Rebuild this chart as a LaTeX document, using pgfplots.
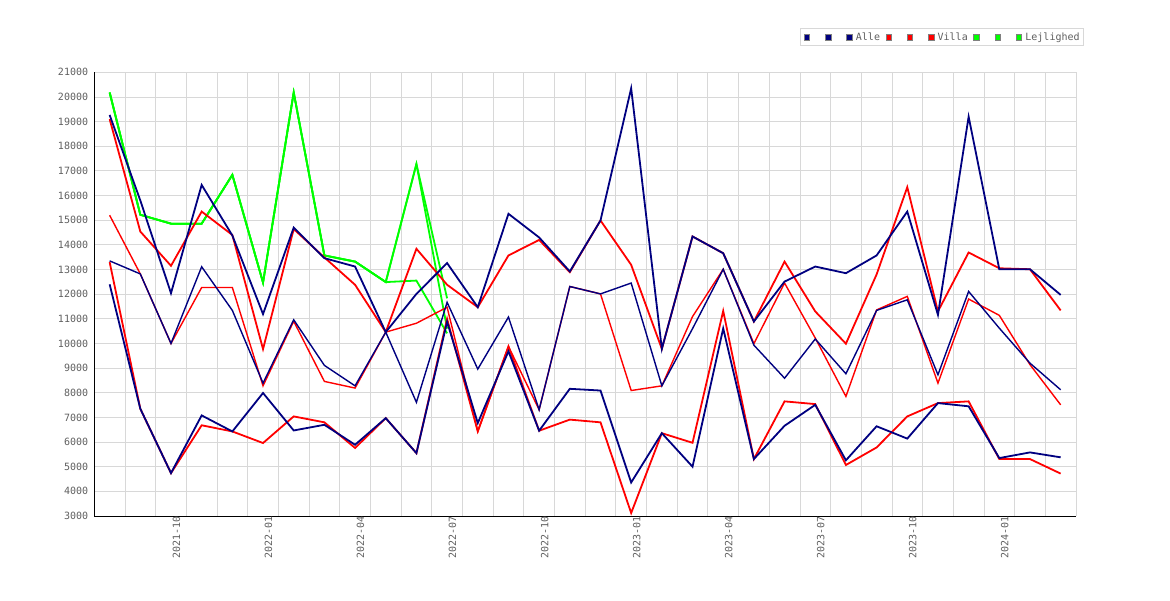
\documentclass[border=0pt]{standalone}
\usepackage{fontspec}
\usepackage{pgfplots}
\usepackage{pgfplotstable}
\pgfplotsset{compat=1.18}
\newfontfamily\monofont{DejaVu Sans Mono}
\definecolor{navyc}{RGB}{0,0,128}
\definecolor{redc}{RGB}{255,0,0}
\definecolor{greenc}{RGB}{0,255,0}
\definecolor{gridc}{RGB}{216,216,216}
\definecolor{labc}{RGB}{95,95,95}

\pgfplotstableread{
x blA blB blC rdA rdB rdC
0 19270 13350 12400 19100 15200 13300
1 15800 12820 7350 14540 12820 7350
2 12040 10000 4740 13150 10000 4740
3 16430 13110 7080 15350 12270 6680
4 14380 11340 6430 14400 12270 6430
5 11190 8390 7990 9770 8280 5960
6 14700 10960 6470 14640 10900 7040
7 13460 9110 6700 13490 8460 6800
8 13120 8280 5890 12380 8190 5760
9 10460 10460 6970 10460 10460 6970
10 12010 7610 5550 13840 10820 5550
11 13260 11670 10880 12380 11470 11000
12 11470 8960 6770 11470 6430 6430
13 15260 11070 9680 13570 9880 9880
14 14300 7310 6460 14200 7310 6460
15 12920 12310 8160 12890 12310 6910
16 14990 12010 8090 14990 12010 6800
17 20350 12450 4360 13190 8090 3120
18 9780 8280 6360 9780 8280 6360
19 14340 10600 5000 14340 11090 5970
20 13660 13010 10610 13660 13010 11320
21 10890 9930 5310 10890 9990 5310
22 12510 8590 6660 13320 12450 7650
23 13120 10180 7510 11300 10220 7540
24 12850 8770 5260 9990 7850 5070
25 13570 11340 6640 12800 11360 5780
26 15350 11770 6140 16340 11910 7040
27 11160 8730 7580 11300 8390 7580
28 19200 12110 7450 13690 11800 7650
29 13010 10620 5350 13050 11140 5310
30 13010 9200 5580 13010 9140 5310
31 11970 8120 5380 11340 7510 4720
}\maindata

\pgfplotstableread{
x gA gB gC
0 20180 20180 20180
1 15220 15220 15220
2 14860 14860 14860
3 14860 14860 14860
4 16840 16840 16840
5 12470 12470 12470
6 20180 20180 20180
7 13570 13570 13570
8 13320 13320 13320
9 12490 12490 12490
10 17280 17280 12550
11 11830 10600 10410
}\greendata

\begin{document}
\begin{tikzpicture}
\begin{axis}[
  at={(0,0)}, anchor=south west,
  scale only axis, width=981.7pt, height=443.7pt,
  xmin=-0.5, xmax=31.5, ymin=3000, ymax=21000,
  axis x line*=bottom, axis y line*=left,
  axis line style={black, line width=1pt, -},
  ytick={3000,4000,...,21000},
  scaled y ticks=false,
  xtick={2,5,8,11,14,17,20,23,26,29},
  xticklabels={2021-10,2022-01,2022-04,2022-07,2022-10,2023-01,2023-04,2023-07,2023-10,2024-01},
  minor xtick={-0.5,0.5,...,31.5},
  ymajorgrids, xminorgrids,
  major grid style={gridc, line width=0.8pt},
  minor grid style={gridc, line width=0.8pt},
  major tick length=0pt, minor tick length=0pt,
  /pgf/number format/assume math mode=true,
  /pgf/number format/1000 sep={},
  tick label style={font=\monofont\fontsize{10}{12}\selectfont, text=labc},
  yticklabel style={inner sep=0pt, xshift=-6pt},
  xticklabel style={rotate=90, anchor=east, inner sep=0pt, yshift=-5.5pt},
  legend columns=9,
  legend image code/.code={\draw[#1, line width=0.6pt] (0pt,-2.8pt) rectangle (5.6pt,2.8pt);},
  legend style={at={(rel axis cs:1,1)}, anchor=south east, xshift=8pt, yshift=26.3pt,
    draw=gridc, line width=0.8pt, fill=white, inner xsep=3pt, inner ysep=3pt,
    font=\monofont\fontsize{10}{12}\selectfont, text=labc,
    nodes={inner xsep=1pt, inner ysep=1pt},
    /tikz/every odd column/.append style={column sep=2.5pt},
    /tikz/every even column/.append style={column sep=4.5pt}},
  legend cell align=left,
]
\addlegendimage{fill=navyc, draw=gray}
\addlegendentry{\hphantom{0}}
\addlegendimage{fill=navyc, draw=gray}
\addlegendentry{\hphantom{0}}
\addlegendimage{fill=navyc, draw=gray}
\addlegendentry{Alle}
\addlegendimage{fill=redc, draw=gray}
\addlegendentry{\hphantom{0}}
\addlegendimage{fill=redc, draw=gray}
\addlegendentry{\hphantom{0}}
\addlegendimage{fill=redc, draw=gray}
\addlegendentry{Villa}
\addlegendimage{fill=greenc, draw=gray}
\addlegendentry{\hphantom{0}}
\addlegendimage{fill=greenc, draw=gray}
\addlegendentry{\hphantom{0}}
\addlegendimage{fill=greenc, draw=gray}
\addlegendentry{Lejlighed}

\addplot[greenc, line width=1.8pt, forget plot] table[x=x, y=gA] {\greendata};
\addplot[greenc, line width=1.8pt, forget plot] table[x=x, y=gB] {\greendata};
\addplot[greenc, line width=1.8pt, forget plot] table[x=x, y=gC] {\greendata};
\addplot[redc, line width=1.8pt, forget plot] table[x=x, y=rdA] {\maindata};
\addplot[redc, line width=1.4pt, forget plot] table[x=x, y=rdB] {\maindata};
\addplot[redc, line width=1.8pt, forget plot] table[x=x, y=rdC] {\maindata};
\addplot[navyc, line width=1.8pt, forget plot] table[x=x, y=blA] {\maindata};
\addplot[navyc, line width=1.4pt, forget plot] table[x=x, y=blB] {\maindata};
\addplot[navyc, line width=1.8pt, forget plot] table[x=x, y=blC] {\maindata};
\end{axis}
\pgfresetboundingbox
\path[use as bounding box] (-94.3pt,-84pt) rectangle (1075.7pt,516pt);
\end{tikzpicture}
\end{document}
